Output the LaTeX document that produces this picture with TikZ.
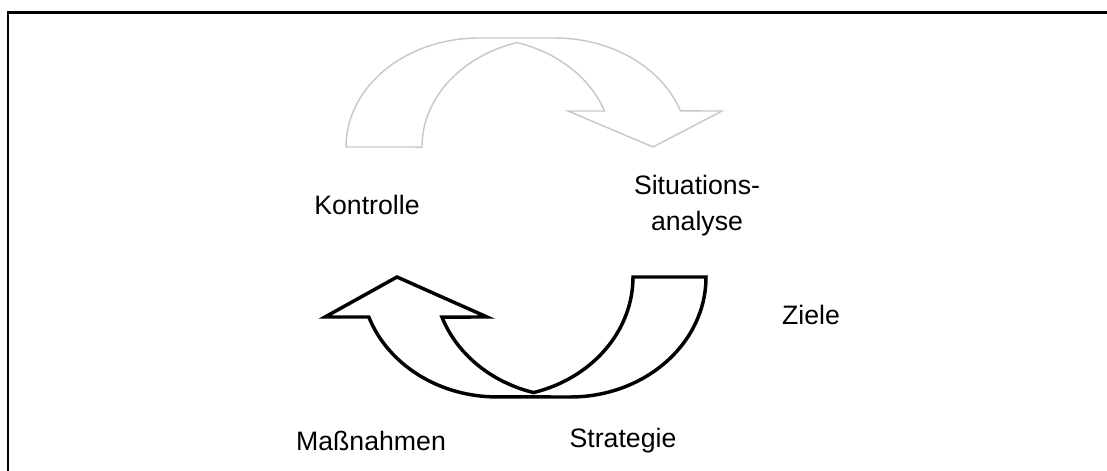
\documentclass[tikz,border=0pt]{standalone}
\usepackage{fontspec}
\setmainfont{Liberation Sans}
\begin{document}
\begin{tikzpicture}[x=0.75pt,y=0.75pt]
		\tikzset{stage/.style = {font=\fontsize{20}{27}\selectfont, align=center, inner sep=0pt}}
		\tikzset{swoop/.style = {line width=2.6pt, miter limit=20}}
		\tikzset{frame/.style = {line width=1.6pt}}
		
		\useasboundingbox (0,0) rectangle (1107,471);
		\draw[frame] (8,0) -- (8,458.5) -- (1107,458.5);
		
		% grey arrow, upper half
		\tikzset{swoop/.style = {line width=1.1pt, draw={rgb,255:red,200;green,200;blue,200}}}
		\draw[swoop] (346,324) arc[start angle=180, end angle=90, x radius=133, y radius=109]
			-- (555,433) arc[start angle=90, end angle=19.3, x radius=133, y radius=109]
			-- (722,360) -- (653,324) -- (568,360) -- (604.5,360)
			arc[start angle=19.3, end angle=73.4, x radius=133, y radius=109]
			arc[start angle=106.6, end angle=180, x radius=133, y radius=109]
			-- cycle;
		
		% black arrow, lower half
		\tikzset{swoop/.style = {line width=2.6pt, black}}
		\draw[swoop] (706,194) -- (633,194)
			arc[start angle=0, end angle=-74.4, x radius=136, y radius=120]
			arc[start angle=-105.6, end angle=-160.5, x radius=136, y radius=120]
			-- (487,154) -- (397,194) -- (325,154) -- (368.8,154)
			arc[start angle=199.5, end angle=270, x radius=136, y radius=120]
			-- (570,74) arc[start angle=-90, end angle=0, x radius=136, y radius=120]
			-- cycle;
		
		\node[stage] (kontrolle) at (367,266) {Kontrolle};
		\node[stage] (situation) at (697,265) {Situations-\\analyse};
		\node[stage] (ziele)     at (811,156) {Ziele};
		\node[stage] (massnahme) at (371,30)  {Maßnahmen};
		\node[stage] (strategie) at (623,30)  {Strategie};
\end{tikzpicture}
\end{document}
